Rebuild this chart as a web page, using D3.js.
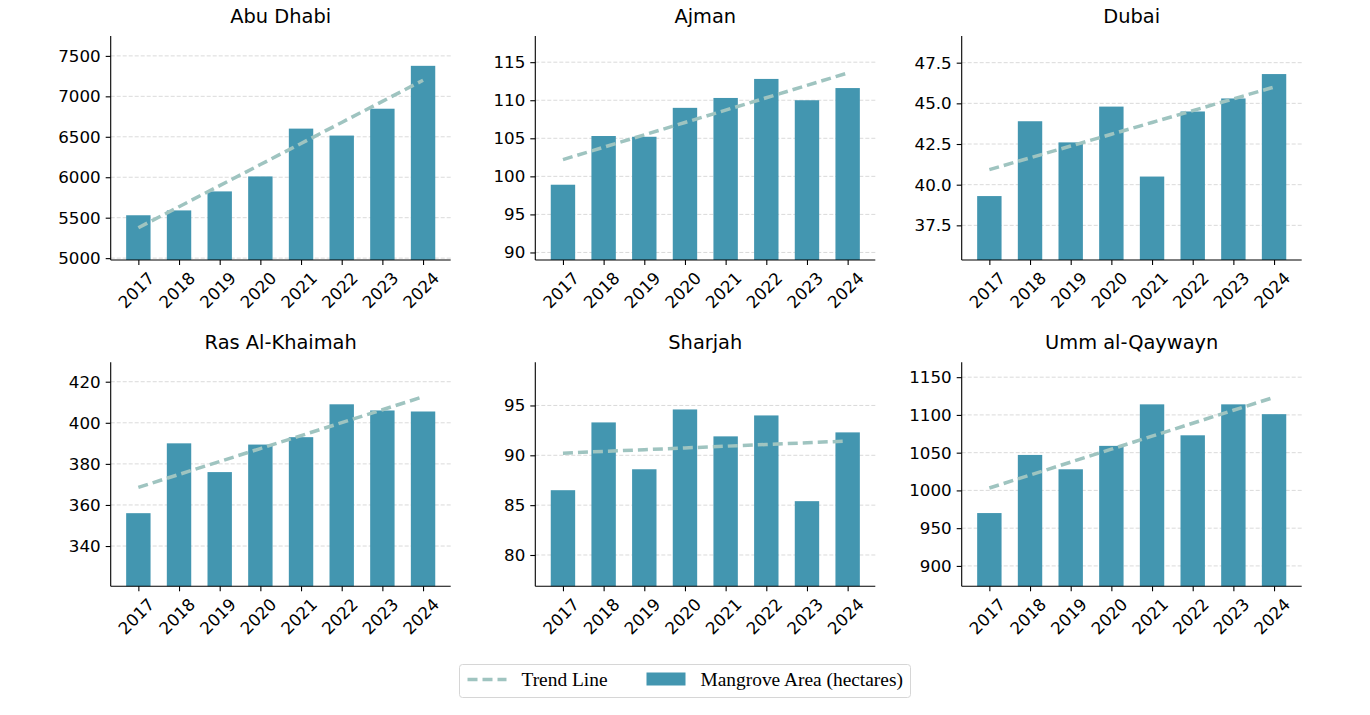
<!DOCTYPE html>
<html>
<head>
<meta charset="utf-8">
<script src="https://cdn.jsdelivr.net/npm/d3@7"></script>
<style>
  body { margin: 0; background: #fff; }
  svg { display: block; }
</style>
</head>
<body>
<div id="chart"></div>
<script>
const years = ['2017', '2018', '2019', '2020', '2021', '2022', '2023', '2024'];
const emirates = ['Abu Dhabi', 'Ajman', 'Dubai', 'Ras Al-Khaimah', 'Sharjah', 'Umm al-Qaywayn'];

const abuDhabi = [5530, 5590, 5825, 6010, 6601, 6515, 6847, 7377];
const ajman = [98.9, 105.3, 105.2, 109.0, 110.3, 112.8, 110.0, 111.6];
const dubai = [39.3, 43.9, 42.6, 44.8, 40.5, 44.5, 45.3, 46.8];
const rasAlKhaimah = [356, 390, 376, 389.4, 393, 409, 406, 405.5];
const sharjah = [86.5, 93.3, 88.6, 94.6, 91.9, 94.0, 85.4, 92.3];
const ummAlQaywayn = [970, 1047, 1028, 1059, 1114, 1073, 1114, 1101];

const seriesList = [abuDhabi, ajman, dubai, rasAlKhaimah, sharjah, ummAlQaywayn];
const tickSteps = [500, 5, 2.5, 20, 5, 50];
const tickFormats = ['d', 'd', '.1f', 'd', 'd', 'd'];

const W = 1370, H = 715;
const barColor = '#4396b0';
const trendColor = '#9fc4c0';
const colLeft = [110.7, 535.3, 961.7];
const rowTop = [36, 362.3];
const pw = 340, ph = 224;
const tickFont = 16.7;

const svg = d3.select('#chart').append('svg')
  .attr('width', W)
  .attr('height', H)
  .style('font-family', '"DejaVu Sans", sans-serif');

// least squares fit for the trend line
const fit = (vals) => {
  const n = vals.length;
  const mx = (n - 1) / 2;
  const my = d3.mean(vals);
  let num = 0, den = 0;
  vals.forEach((v, i) => { num += (i - mx) * (v - my); den += (i - mx) * (i - mx); });
  const slope = num / den;
  return vals.map((v, i) => my + slope * (i - mx));
};

seriesList.forEach((vals, k) => {
  const left = colLeft[k % 3];
  const top = rowTop[Math.floor(k / 3)];
  const g = svg.append('g').attr('transform', `translate(${left},${top})`);

  const x = d3.scaleLinear().domain([-0.68, 7.68]).range([0, pw]);
  const y = d3.scaleLinear()
    .domain([d3.min(vals) * 0.9, d3.max(vals) * 1.05])
    .range([ph, 0]);
  const step = tickSteps[k];
  const tv = d3.range(Math.ceil(y.domain()[0] / step) * step, y.domain()[1], step);

  // grid
  g.append('g')
    .selectAll('line')
    .data(tv)
    .join('line')
    .attr('x1', 0)
    .attr('x2', pw)
    .attr('y1', (d) => y(d))
    .attr('y2', (d) => y(d))
    .attr('stroke', '#d0d0d0')
    .attr('stroke-width', 0.8)
    .attr('stroke-dasharray', '4,2');

  // bars
  const bw = x(0.6) - x(0);
  g.append('g')
    .selectAll('rect')
    .data(vals)
    .join('rect')
    .attr('x', (d, i) => x(i) - bw / 2)
    .attr('width', bw)
    .attr('y', (d) => y(d))
    .attr('height', (d) => ph - y(d))
    .attr('fill', barColor);

  // trend
  const trend = fit(vals);
  g.append('path')
    .datum(trend)
    .attr('d', d3.line().x((d, i) => x(i)).y((d) => y(d)))
    .attr('fill', 'none')
    .attr('stroke', trendColor)
    .attr('stroke-width', 3.5)
    .attr('stroke-dasharray', '10,5');

  // y axis
  const ya = g.append('g')
    .call(d3.axisLeft(y).tickValues(tv).tickFormat(d3.format(tickFormats[k])).tickSize(5).tickPadding(5));
  ya.attr('font-size', tickFont).attr('font-family', '"DejaVu Sans", sans-serif');
  ya.selectAll('text').attr('fill', '#000');
  ya.selectAll('line, path').attr('stroke', '#000').attr('stroke-width', 1.1);
  ya.select('.domain').attr('d', `M0,0V${ph}`);

  // x axis
  const xa = g.append('g')
    .attr('transform', `translate(0,${ph})`)
    .call(d3.axisBottom(x).tickValues(d3.range(years.length)).tickFormat('').tickSize(5));
  xa.selectAll('line, path').attr('stroke', '#000').attr('stroke-width', 1.1);
  xa.select('.domain').attr('d', `M0,0H${pw}`);

  const labels = g.append('g').selectAll('text')
    .data(years)
    .join('text')
    .attr('font-size', tickFont)
    .attr('text-anchor', 'middle')
    .attr('dominant-baseline', 'central')
    .text((d) => d);
  labels.each(function (d, i) {
    const w = this.getComputedTextLength();
    const half = (w + tickFont) / (2 * Math.SQRT2);
    const cx = x(i) - 2;
    const cy = ph + 9 + half;
    d3.select(this)
      .attr('x', cx)
      .attr('y', cy)
      .attr('transform', `rotate(-45,${cx},${cy})`);
  });

  // title
  g.append('text')
    .attr('x', pw / 2)
    .attr('y', -13)
    .attr('text-anchor', 'middle')
    .attr('font-size', 19.4)
    .attr('fill', '#000')
    .text(emirates[k]);
});

// legend
const lg = svg.append('g').attr('transform', 'translate(459.5,664.5)')
  .style('font-family', '"Liberation Serif", "Times New Roman", serif');
lg.append('rect')
  .attr('width', 451)
  .attr('height', 33)
  .attr('rx', 3)
  .attr('fill', '#fff')
  .attr('stroke', '#d6d6d6');
lg.append('line')
  .attr('x1', 8).attr('x2', 47)
  .attr('y1', 15).attr('y2', 15)
  .attr('stroke', trendColor)
  .attr('stroke-width', 3.5)
  .attr('stroke-dasharray', '10,5');
lg.append('text')
  .attr('x', 62).attr('y', 21.5)
  .attr('font-size', 19.4)
  .text('Trend Line');
lg.append('rect')
  .attr('x', 187).attr('y', 8)
  .attr('width', 39).attr('height', 13)
  .attr('fill', barColor);
lg.append('text')
  .attr('x', 241).attr('y', 21.5)
  .attr('font-size', 19.4)
  .text('Mangrove Area (hectares)');
</script>
</body>
</html>
